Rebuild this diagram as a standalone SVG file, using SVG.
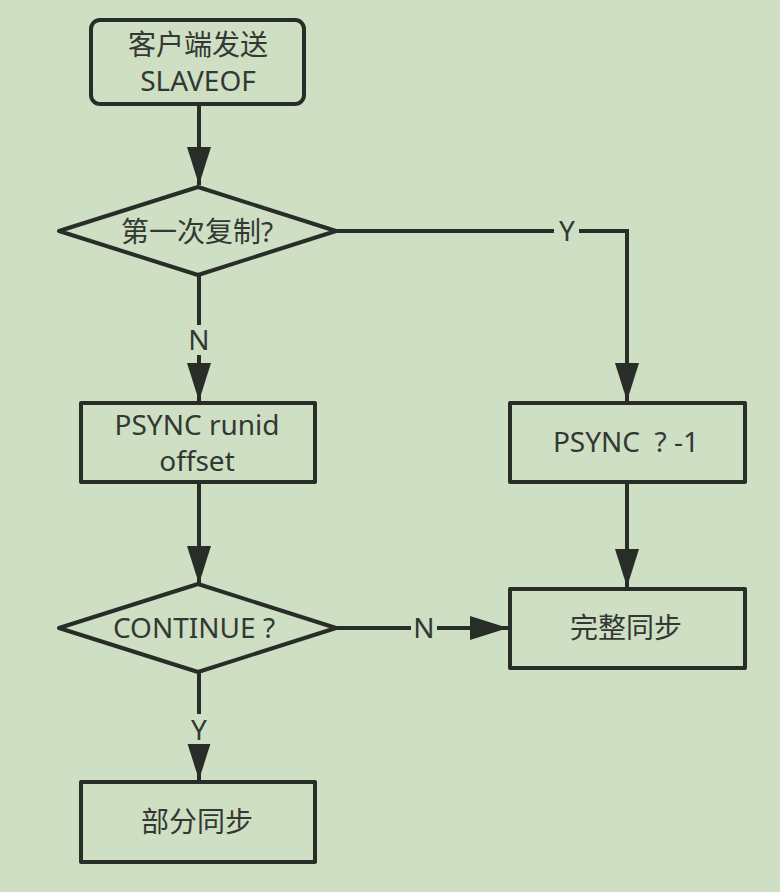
<svg xmlns="http://www.w3.org/2000/svg" width="780" height="892" viewBox="0 0 780 892">
<defs>
<marker id="ah" markerUnits="userSpaceOnUse" markerWidth="40" markerHeight="26" refX="38" refY="12" orient="auto">
<path d="M0,0 L38,12 L0,24 Z" fill="#282d27"/>
</marker>
<style>
.n{fill:none;stroke:#282d27;stroke-width:4;stroke-linejoin:round}
.c{fill:none;stroke:#282d27;stroke-width:4}
.t{font-family:"Noto Sans","Noto Sans CJK SC",sans-serif;font-size:28px;fill:#333833;text-anchor:middle}
.bg{fill:#cedfc3}
</style>
</defs>
<rect width="780" height="892" fill="#cedfc3"/>
<g id="connectors">
<path class="c" d="M199,104 V185" marker-end="url(#ah)"/>
<path class="c" d="M336,231 H627 V401" marker-end="url(#ah)"/>
<path class="c" d="M199,275 V401" marker-end="url(#ah)"/>
<path class="c" d="M199,482 V584" marker-end="url(#ah)"/>
<path class="c" d="M627,482 V587" marker-end="url(#ah)"/>
<path class="c" d="M336,628 H508" marker-end="url(#ah)"/>
<path class="c" d="M199,672 V780" marker-end="url(#ah)"/>
<rect class="bg" x="554" y="216" width="25" height="30"/>
<text class="t" x="567" y="241">Y</text>
<rect class="bg" x="186" y="325" width="26" height="30"/>
<text class="t" x="199" y="350">N</text>
<rect class="bg" x="411" y="613" width="26" height="30"/>
<text class="t" x="424" y="638">N</text>
<rect class="bg" x="186" y="714" width="26" height="30"/>
<text class="t" x="199" y="740">Y</text>
</g>
<g id="start">
<rect class="n" x="91" y="20" width="213" height="84" rx="9" fill="none"/>
<text class="t" x="198" y="55">客户端发送</text>
<text class="t" x="198" y="91">SLAVEOF</text>
</g>
<g id="first">
<polygon class="n" points="198,187 336,231 198,275 59,231"/>
<text class="t" x="197" y="242">第一次复制?</text>
</g>
<g id="psync-runid">
<rect class="n" x="81" y="403" width="234" height="79"/>
<text class="t" x="197" y="435">PSYNC runid</text>
<text class="t" x="197" y="471">offset</text>
</g>
<g id="psync-full">
<rect class="n" x="510" y="403" width="235" height="79"/>
<text class="t" x="626" y="452" xml:space="preserve">PSYNC  ? -1</text>
</g>
<g id="continue">
<polygon class="n" points="198,584 336,628 198,672 59,628"/>
<text class="t" x="194" y="638">CONTINUE ?</text>
</g>
<g id="full-sync">
<rect class="n" x="510" y="589" width="235" height="79"/>
<text class="t" x="626" y="638">完整同步</text>
</g>
<g id="partial-sync">
<rect class="n" x="81" y="782" width="234" height="80"/>
<text class="t" x="197" y="832">部分同步</text>
</g>
</svg>
